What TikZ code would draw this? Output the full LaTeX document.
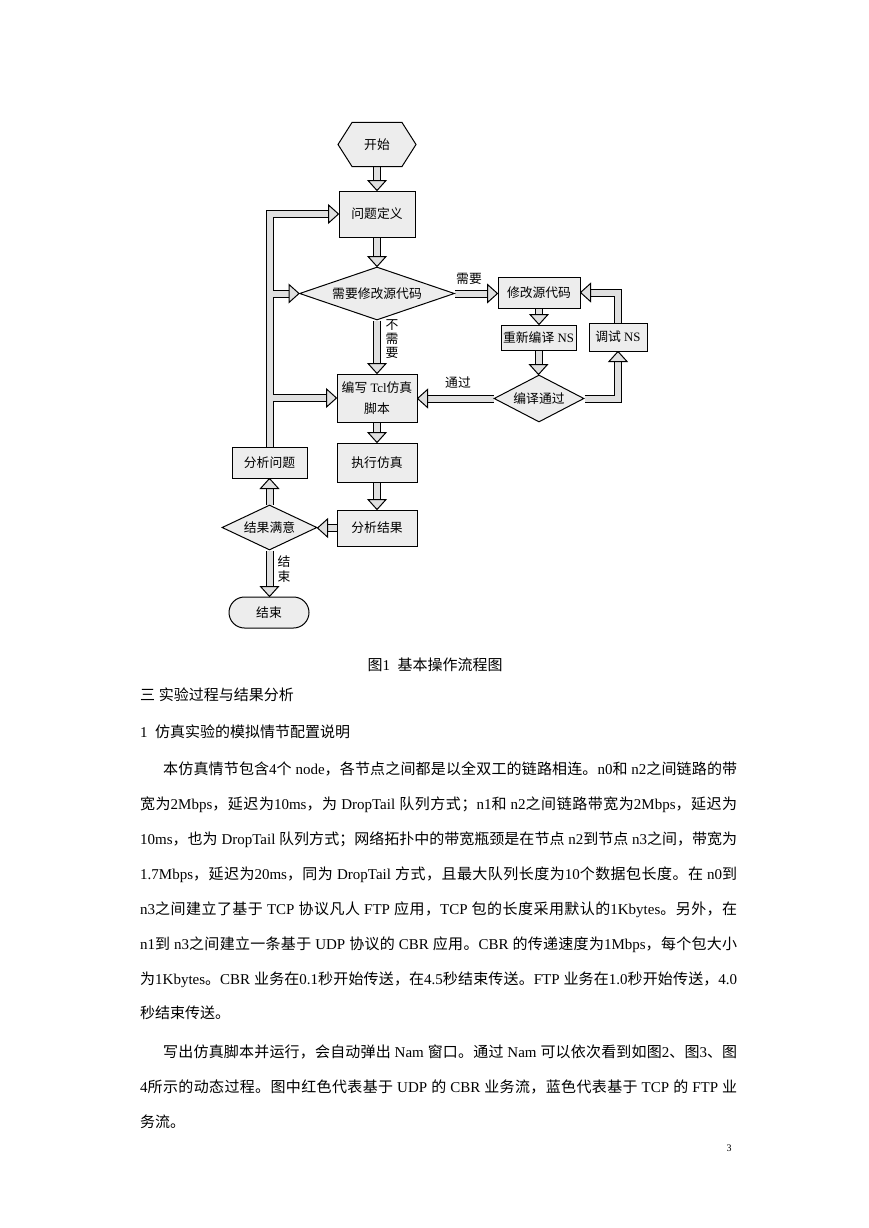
\documentclass[tikz,border=0pt]{standalone}
\usepackage{fontspec}
\setmainfont{Liberation Serif}
\newfontfamily\cjkfont{Noto Sans CJK SC}
\newfontfamily\latfont{Liberation Serif}
\usetikzlibrary{shapes.geometric,shapes.misc,backgrounds}
\XeTeXinterchartokenstate=1
\newXeTeXintercharclass\cjkcls
\newcount\cjkcnt
\def\setcjkrange#1#2{\cjkcnt=#1\relax
  \loop\XeTeXcharclass\cjkcnt=\cjkcls\relax
  \advance\cjkcnt by 1\relax
  \ifnum\cjkcnt<#2\relax\repeat}
\setcjkrange{"3000}{"3040}
\setcjkrange{"4E00}{"A000}
\setcjkrange{"FF00}{"FFF0}
\XeTeXinterchartoks 0 \cjkcls = {\cjkfont}
\XeTeXinterchartoks 4095 \cjkcls = {\cjkfont}
\XeTeXinterchartoks \cjkcls 0 = {\latfont}
\XeTeXinterchartoks \cjkcls 4095 = {\latfont}
\XeTeXinterchartoks \cjkcls \cjkcls = {\hskip 0pt plus 0.15em minus 0.03em\relax}
\newcommand\fcsize{\fontsize{12.8pt}{15pt}\selectfont}
\newcommand\fclines{\fontsize{12.8pt}{21pt}\selectfont}
\newcommand\bodysize{\fontsize{15pt}{18pt}\selectfont}
\definecolor{boxgray}{gray}{0.93}
\definecolor{arrgray}{gray}{0.88}
\tikzset{
  fbox/.style={draw, line width=1pt, fill=boxgray, inner sep=0pt, font=\fcsize},
  fdia/.style={diamond, draw, line width=1pt, fill=boxgray, inner sep=0pt, font=\fcsize},
  fend/.style={rounded rectangle, draw, line width=1pt, fill=boxgray, inner sep=0pt, font=\fcsize},
  shaft/.style={draw=black, line width=1pt, double=arrgray, double distance=6pt, line join=miter},
  ahead/.pic={\draw[line width=1pt, fill=arrgray, line join=miter] (0pt,0pt) -- (-10pt,9pt) -- (-10pt,-9pt) -- cycle;},
  lbl/.style={inner sep=0pt, font=\fcsize, align=center},
  body/.style={anchor=base west, inner sep=0pt, font=\bodysize}
}
\begin{document}
\begin{tikzpicture}[x=1pt,y=-1pt]
\useasboundingbox (0,0) rectangle (869,1228);
% ---------- flowchart nodes ----------
\node[fbox, draw=none, fill=none, minimum width=49pt, minimum height=43pt] (start) at (377,144.5) {开始};
\node[fbox, minimum width=76pt, minimum height=46pt] (q) at (377,214) {问题定义};
\node[fdia, minimum width=155pt, minimum height=53pt, shape aspect=2.9] (d1) at (377,293.5) {需要修改源代码};
\node[fbox, minimum width=82pt, minimum height=31pt] (m) at (539,292.5) {修改源代码};
\node[fbox, minimum width=75pt, minimum height=25pt] (r) at (538.5,337.5) {重新编译 NS};
\node[fbox, minimum width=58pt, minimum height=28pt] (t) at (618,337) {调试 NS};
\node[fdia, minimum width=90pt, minimum height=47pt, shape aspect=1.9] (d2) at (539,398.5) {编译通过};
\node[fbox, minimum width=80pt, minimum height=48pt, align=center, font=\fclines] (w) at (377,398) {编写 Tcl仿真\\脚本};
\node[fbox, minimum width=80pt, minimum height=39pt] (e) at (377,462.5) {执行仿真};
\node[fbox, minimum width=80pt, minimum height=36pt] (ar) at (377,528) {分析结果};
\node[fbox, minimum width=75pt, minimum height=31pt] (ap) at (269.5,462.5) {分析问题};
\node[fdia, minimum width=95pt, minimum height=45pt, shape aspect=2.1] (d3) at (269.5,527.5) {结果满意};
\node[fend, minimum width=80pt, minimum height=31pt] (fin) at (269,612.5) {结束};
% labels
\node[lbl] (lneed) at (469,279) {需要};
\node[lbl, font=\fontsize{12.8pt}{14pt}\selectfont] (lnoneed) at (392,339) {不\\需\\要};
\node[lbl] (lpass) at (458,383) {通过};
\node[lbl, font=\fontsize{12.8pt}{15pt}\selectfont] (lend) at (284,569.5) {结\\束};
% ---------- connectors ----------
\begin{pgfonlayer}{background}
\draw[shaft] (start.south) -- ([yshift=10pt]q.north);
\pic[rotate=-90] at (q.north) {ahead};
\draw[shaft] (q.south) -- ([yshift=10pt]d1.north);
\pic[rotate=-90] at (d1.north) {ahead};
\draw[shaft] (d1.south) -- ([yshift=10pt]w.north);
\pic[rotate=-90] at (w.north) {ahead};
\draw[shaft] (d1.east) -- ([xshift=-10pt]d1.east -| m.west);
\pic at (d1.east -| m.west) {ahead};
\draw[shaft] (m.south) -- ([yshift=10pt]m.south |- r.north);
\pic[rotate=-90] at (m.south |- r.north) {ahead};
\draw[shaft] (r.south) -- ([yshift=10pt]r.south |- d2.north);
\pic[rotate=-90] at (r.south |- d2.north) {ahead};
\draw[shaft] (d2.west) -- ([xshift=10pt]d2.west -| w.east);
\pic[rotate=180] at (d2.west -| w.east) {ahead};
\draw[shaft] (d2.east) -| ([yshift=-10pt]t.south);
\pic[rotate=90] at (t.south) {ahead};
\draw[shaft] (t.north) |- ([xshift=10pt]m.east);
\pic[rotate=180] at (m.east) {ahead};
\draw[shaft] (w.south) -- ([yshift=10pt]e.north);
\pic[rotate=-90] at (e.north) {ahead};
\draw[shaft] (e.south) -- ([yshift=10pt]ar.north);
\pic[rotate=-90] at (ar.north) {ahead};
\draw[shaft] (ar.west) -- ([xshift=10pt]ar.west -| d3.east);
\pic[rotate=180] at (ar.west -| d3.east) {ahead};
\draw[shaft] (d3.north) -- ([yshift=-10pt]ap.south);
\pic[rotate=90] at (ap.south) {ahead};
\draw[shaft] (d3.south) -- ([yshift=10pt]d3.south |- fin.north);
\pic[rotate=-90] at (d3.south |- fin.north) {ahead};
\draw[shaft] (ap.north) |- ([xshift=-10pt]q.west)
  (ap.north |- d1.west) -- ([xshift=-10pt]d1.west)
  (ap.north |- w.west) -- ([xshift=-10pt]w.west);
\pic at (q.west) {ahead};
\pic at (d1.west) {ahead};
\pic at (w.west) {ahead};
\draw[line width=1pt, fill=boxgray] (start.north west) -- (start.north east) -- ([xshift=14pt]start.east) -- (start.south east) -- (start.south west) -- ([xshift=-14pt]start.west) -- cycle;
\end{pgfonlayer}
% ---------- caption and text ----------
\node[anchor=base, inner sep=0pt, font=\bodysize] (cap) at (435,670.5) {图1~~基本操作流程图};
\node[body] (h1) at (140,700.5) {三~实验过程与结果分析};
\node[body] (h2) at (140,737.5) {1~~仿真实验的模拟情节配置说明};
\node[body] (a1) at (163,774) {\makebox[574pt][s]{本仿真情节包含4个 node，各节点之间都是以全双工的链路相连。n0和 n2之间链路的带}};
\node[body] (a2) at (140,809) {\makebox[597pt][s]{宽为2Mbps，延迟为10ms，为 DropTail 队列方式；n1和 n2之间链路带宽为2Mbps，延迟为}};
\node[body] (a3) at (140,844) {\makebox[597pt][s]{10ms，也为 DropTail 队列方式；网络拓扑中的带宽瓶颈是在节点 n2到节点 n3之间，带宽为}};
\node[body] (a4) at (140,879) {\makebox[597pt][s]{1.7Mbps，延迟为20ms，同为 DropTail 方式，且最大队列长度为10个数据包长度。在 n0到}};
\node[body] (a5) at (140,914) {\makebox[597pt][s]{n3之间建立了基于 TCP 协议凡人 FTP 应用，TCP 包的长度采用默认的1Kbytes。另外，在}};
\node[body] (a6) at (140,949) {\makebox[597pt][s]{n1到 n3之间建立一条基于 UDP 协议的 CBR 应用。CBR 的传递速度为1Mbps，每个包大小}};
\node[body] (a7) at (140,984) {\makebox[597pt][s]{为1Kbytes。CBR 业务在0.1秒开始传送，在4.5秒结束传送。FTP 业务在1.0秒开始传送，4.0}};
\node[body] (a8) at (140,1018.5) {秒结束传送。};
\node[body] (b1) at (163,1057.5) {\makebox[574pt][s]{写出仿真脚本并运行，会自动弹出 Nam 窗口。通过 Nam 可以依次看到如图2、图3、图}};
\node[body] (b2) at (140,1092.5) {\makebox[597pt][s]{4所示的动态过程。图中红色代表基于 UDP 的 CBR 业务流，蓝色代表基于 TCP 的 FTP 业}};
\node[body] (b3) at (140,1127.5) {务流。};
\node[anchor=base, inner sep=0pt, font=\fontsize{10pt}{12pt}\selectfont] (pg) at (729,1151) {3};
\end{tikzpicture}
\end{document}
